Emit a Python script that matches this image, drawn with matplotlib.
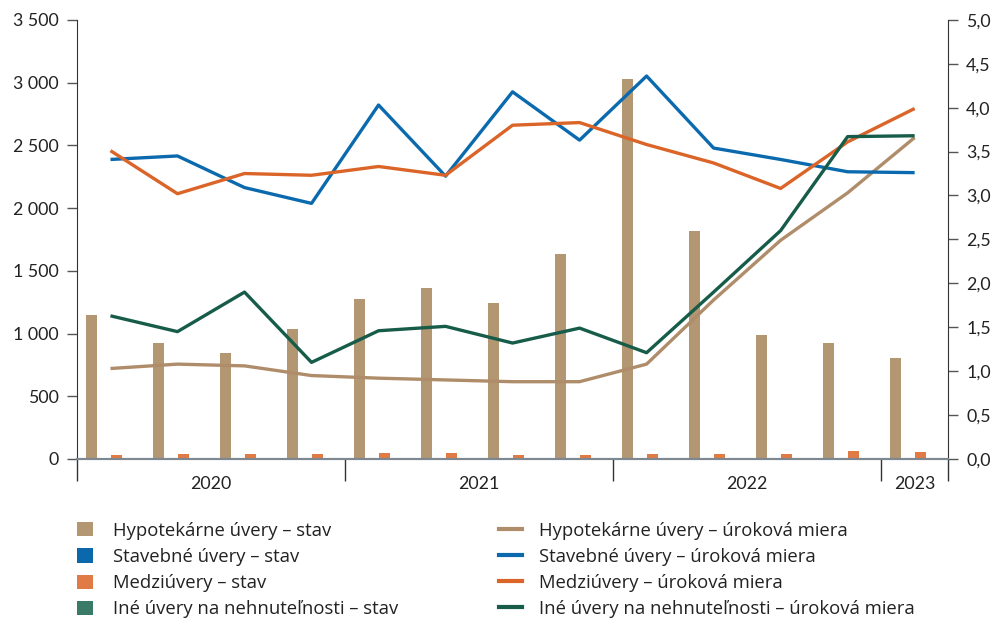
import matplotlib
matplotlib.use("Agg")
import matplotlib.pyplot as plt
import numpy as np
from matplotlib.patches import Patch
from matplotlib.lines import Line2D

plt.rcParams['font.family'] = ['Lato', 'DejaVu Sans']

quarters = ["2020Q1", "2020Q2", "2020Q3", "2020Q4", "2021Q1", "2021Q2", "2021Q3", "2021Q4",
            "2022Q1", "2022Q2", "2022Q3", "2022Q4", "2023Q1"]
years = ["2020", "2021", "2022", "2023"]
year_centers = [2, 6, 10, 12.5]

hypo_stav = [1148, 925, 845, 1036, 1275, 1363, 1244, 1634, 3030, 1818, 989, 925, 805]
stav_stav = [2, 2, 2, 2, 2, 2, 2, 2, 2, 2, 2, 2, 2]
medzi_stav = [29, 42, 37, 37, 45, 48, 29, 32, 37, 37, 37, 61, 53]
ine_stav = [3, 3, 3, 4, 4, 4, 4, 4, 5, 6, 8, 8, 2]

hypo_rate = [1.03, 1.08, 1.06, 0.95, 0.92, 0.90, 0.88, 0.88, 1.08, 1.81, 2.49, 3.03, 3.66]
stav_rate = [3.41, 3.45, 3.09, 2.91, 4.03, 3.22, 4.18, 3.63, 4.36, 3.54, 3.41, 3.27, 3.26]
medzi_rate = [3.51, 3.02, 3.25, 3.23, 3.33, 3.23, 3.80, 3.83, 3.58, 3.37, 3.08, 3.61, 3.99]
ine_rate = [1.63, 1.45, 1.90, 1.10, 1.46, 1.51, 1.32, 1.49, 1.21, 1.90, 2.60, 3.67, 3.68]

bar_labels = ["Hypotekárne úvery – stav", "Stavebné úvery – stav", "Medziúvery – stav",
              "Iné úvery na nehnuteľnosti – stav"]
line_labels = ["Hypotekárne úvery – úroková miera", "Stavebné úvery – úroková miera",
               "Medziúvery – úroková miera", "Iné úvery na nehnuteľnosti – úroková miera"]
bar_colors = ["#b39672", "#0b68ad", "#e07b45", "#3c7a68"]
line_colors = ["#b08d6a", "#0b6aae", "#db6429", "#165c49"]

fig = plt.figure(figsize=(9.97, 6.19), dpi=100)
ax = fig.add_axes([0.0772, 0.2585, 0.8738, 0.7095])
ax2 = ax.twinx()

x = np.arange(len(quarters)) + 0.5
slot = 0.187
width = 0.165
for i, (vals, c) in enumerate(zip([hypo_stav, stav_stav, medzi_stav, ine_stav], bar_colors)):
    ax.bar(x + (i - 1.5) * slot, vals, width=width, color=c, zorder=2)

for vals, c in zip([hypo_rate, stav_rate, medzi_rate, ine_rate], line_colors):
    ax2.plot(x, vals, color=c, lw=2.4, solid_capstyle='butt', zorder=3)

ax.set_xlim(0, 13)
ax.set_ylim(0, 3500)
ax2.set_ylim(0, 5)
ax.set_yticks(np.arange(0, 3501, 500))
ax.set_yticklabels([f"{v:,}".replace(",", " ") for v in range(0, 3501, 500)])
ax2.set_yticks(np.arange(0, 5.01, 0.5))
ax2.set_yticklabels([f"{v:.1f}".replace(".", ",") for v in np.arange(0, 5.01, 0.5)])

ax.set_xticks([0, 4, 8, 12, 13])
ax.set_xticklabels([])
ax.set_xticks(year_centers, minor=True)
ax.set_xticklabels(years, minor=True)
ax.tick_params(axis='x', which='major', length=16, width=1, color='#333333', direction='out')
ax.tick_params(axis='x', which='minor', length=0, pad=12, labelsize=12.8, labelcolor='#222222')
ax.tick_params(axis='y', length=7, width=1, color='#555555', labelsize=12.8, labelcolor='#222222', pad=6)
ax2.tick_params(axis='y', length=7, width=1, color='#555555', labelsize=12.8, labelcolor='#222222', pad=6)

for a in (ax, ax2):
    a.spines['top'].set_visible(False)
    a.spines['left'].set_color('#333333')
    a.spines['right'].set_color('#333333')
    a.spines['bottom'].set_color('#7d8890')
    a.spines['bottom'].set_linewidth(1.5)
ax2.spines['left'].set_visible(False)
ax.spines['right'].set_visible(False)

legend_font = {'family': ['Open Sans', 'DejaVu Sans'], 'size': 13.3}
bar_handles = [Patch(facecolor=c) for c in bar_colors]
line_handles = [Line2D([0], [0], color=c, lw=3) for c in line_colors]
leg1 = fig.legend(bar_handles, bar_labels, loc='upper left', bbox_to_anchor=(0.0772, 0.157),
                  frameon=False, prop=legend_font, handlelength=0.86, handleheight=0.8,
                  labelspacing=0.44, handletextpad=1.08, borderpad=0, borderaxespad=0,
                  labelcolor='#222222')
leg2 = fig.legend(line_handles, line_labels, loc='upper left', bbox_to_anchor=(0.5005, 0.157),
                  frameon=False, prop=legend_font, handlelength=1.24, handleheight=0.8,
                  labelspacing=0.44, handletextpad=0.92, borderpad=0, borderaxespad=0,
                  labelcolor='#222222')

fig.savefig("out.png", dpi=100)
